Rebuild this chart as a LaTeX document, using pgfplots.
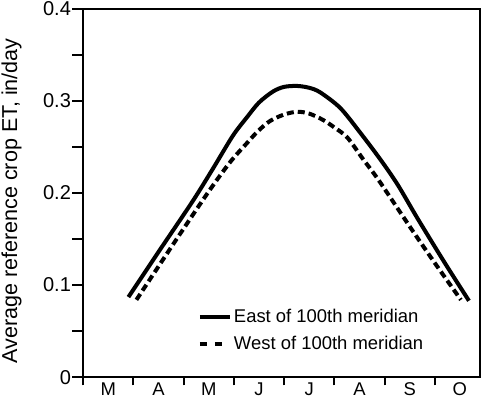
\documentclass[border=0pt]{standalone}
\usepackage{fontspec}
\setmainfont{Liberation Sans}
\usepackage{pgfplots}
\pgfplotsset{compat=1.18}
\begin{document}
\begin{tikzpicture}
\begin{axis}[
 scale only axis, width=396pt, height=368pt,
 xmin=0, xmax=7.9, ymin=0, ymax=0.4,
 axis line style={line width=2pt},
 tick align=outside,
 xtick pos=bottom, ytick pos=left,
 xtick={0,1,...,7}, xticklabels={},
 extra x ticks={0.5,1.5,2.5,3.5,4.5,5.5,6.5,7.5},
 extra x tick labels={M,A,M,J,J,A,S,O},
 extra x tick style={major tick length=0pt, tick style={draw=none}, xticklabel style={yshift=-4pt}},
 ytick={0,0.1,0.2,0.3,0.4}, yticklabels={0,0.1,0.2,0.3,0.4},
 minor ytick={0,0.05,0.1,0.15,0.2,0.25,0.3,0.35,0.4},
 major tick length=8pt, minor tick length=11pt,
 tick style={line width=2pt, black},
 tick label style={font=\fontsize{18.4}{22}\selectfont, inner sep=1pt},
 yticklabel style={xshift=-3pt, font=\fontsize{20}{24}\selectfont},
 ylabel={Average reference crop ET, in/day},
 ylabel style={font=\fontsize{21.5}{24}\selectfont, inner sep=0pt, at={(axis description cs:-0.1667,0.478)}, anchor=base},
 legend style={draw=none, fill=none, at={(axis cs:2.28,0.076)}, anchor=north west,
   font=\fontsize{18.4}{22}\selectfont, row sep=8pt, inner sep=0pt},
 legend cell align=left,
]
\addplot[black, line width=4pt, smooth, tension=0.5,
  legend image code/.code={\draw[black, line width=4pt] (0pt,0pt)--(30pt,0pt);}]
 coordinates {
 (0.90,0.087) (1.50,0.136) (2.18,0.191) (2.58,0.226) (2.98,0.262) (3.26,0.282)
 (3.50,0.298) (3.78,0.310) (4.00,0.315) (4.26,0.316) (4.50,0.314) (4.72,0.309)
 (5.12,0.292) (5.52,0.265) (5.92,0.236) (6.26,0.209) (6.66,0.172) (7.20,0.124) (7.68,0.083)
 };
\addlegendentry{East of 100th meridian}
\addplot[black, line width=4pt, dash pattern=on 7pt off 4pt, smooth, tension=0.5,
  legend image code/.code={\draw[black, line width=4pt, dash pattern=on 7pt off 8pt] (0pt,0pt)--(30pt,0pt);}]
 coordinates {
 (1.06,0.084) (1.80,0.145) (2.48,0.200) (2.92,0.233) (3.26,0.254) (3.48,0.267)
 (3.72,0.278) (4.00,0.285) (4.26,0.288) (4.50,0.286) (4.78,0.279) (5.00,0.271)
 (5.26,0.260) (5.58,0.236) (5.88,0.214) (6.52,0.162) (7.00,0.124) (7.52,0.084)
 };
\addlegendentry{West of 100th meridian}
\end{axis}
\pgfresetboundingbox
\path[use as bounding box] ([xshift=-83pt,yshift=-21pt]current axis.south west) rectangle ([xshift=4pt,yshift=8.5pt]current axis.north east);
\end{tikzpicture}
\end{document}
